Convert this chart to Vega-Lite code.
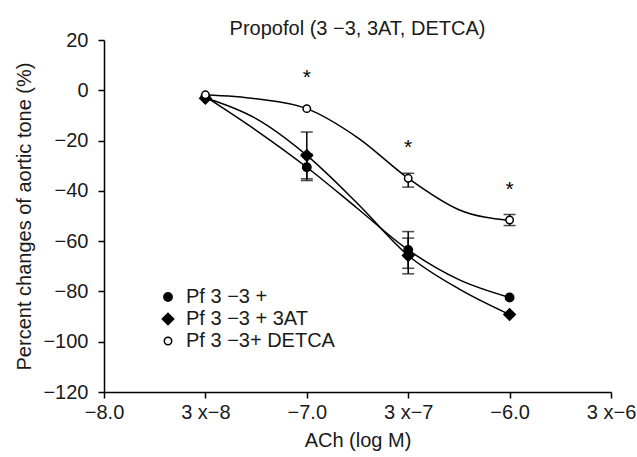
{
  "$schema": "https://vega.github.io/schema/vega-lite/v6.json",
  "width": 507,
  "height": 352,
  "autosize": "none",
  "padding": {"left": 104, "top": 40, "right": 26, "bottom": 65},
  "background": "white",
  "config": {
    "font": "Liberation Sans",
    "view": {"stroke": null},
    "axis": {
      "grid": false,
      "domainColor": "black",
      "domainWidth": 1.5,
      "tickColor": "black",
      "tickWidth": 1.5,
      "tickSize": 6,
      "labelFontSize": 20,
      "labelColor": "#1a1a1a",
      "titleFontSize": 20,
      "titleFontWeight": "normal",
      "titleColor": "#1a1a1a",
      "labelFlush": false,
      "labelOverlap": false,
      "labelBound": false
    }
  },
  "title": {
    "text": "Propofol (3 −3, 3AT, DETCA)",
    "fontSize": 20,
    "fontWeight": "normal",
    "color": "#1a1a1a",
    "anchor": "middle",
    "offset": -9
  },
  "datasets": {
    "curves": [
      {"series": "Pf 3 −3 +", "idx": 1, "value": -2.5},
      {"series": "Pf 3 −3 +", "idx": 1.5, "value": -15.9},
      {"series": "Pf 3 −3 +", "idx": 2, "value": -30.6},
      {"series": "Pf 3 −3 +", "idx": 2.5, "value": -47},
      {"series": "Pf 3 −3 +", "idx": 3, "value": -63.5},
      {"series": "Pf 3 −3 +", "idx": 3.5, "value": -75.3},
      {"series": "Pf 3 −3 +", "idx": 4, "value": -82.4},
      {"series": "Pf 3 −3 + 3AT", "idx": 1, "value": -3},
      {"series": "Pf 3 −3 + 3AT", "idx": 1.5, "value": -11.3},
      {"series": "Pf 3 −3 + 3AT", "idx": 2, "value": -25.9},
      {"series": "Pf 3 −3 + 3AT", "idx": 2.5, "value": -45},
      {"series": "Pf 3 −3 + 3AT", "idx": 3, "value": -65.7},
      {"series": "Pf 3 −3 + 3AT", "idx": 3.5, "value": -79},
      {"series": "Pf 3 −3 + 3AT", "idx": 4, "value": -89.2},
      {"series": "Pf 3 −3+ DETCA", "idx": 1, "value": -1.8},
      {"series": "Pf 3 −3+ DETCA", "idx": 1.5, "value": -3.4},
      {"series": "Pf 3 −3+ DETCA", "idx": 2, "value": -7.3},
      {"series": "Pf 3 −3+ DETCA", "idx": 2.5, "value": -18.8},
      {"series": "Pf 3 −3+ DETCA", "idx": 3, "value": -35},
      {"series": "Pf 3 −3+ DETCA", "idx": 3.5, "value": -47.5},
      {"series": "Pf 3 −3+ DETCA", "idx": 4, "value": -51.8}
    ],
    "points": [
      {"series": "Pf 3 −3 +", "idx": 1, "value": -2.5},
      {"series": "Pf 3 −3 +", "idx": 2, "value": -30.6},
      {"series": "Pf 3 −3 +", "idx": 3, "value": -63.5},
      {"series": "Pf 3 −3 +", "idx": 4, "value": -82.4},
      {"series": "Pf 3 −3 + 3AT", "idx": 1, "value": -3.2},
      {"series": "Pf 3 −3 + 3AT", "idx": 2, "value": -25.9},
      {"series": "Pf 3 −3 + 3AT", "idx": 3, "value": -65.7},
      {"series": "Pf 3 −3 + 3AT", "idx": 4, "value": -89.2},
      {"series": "Pf 3 −3+ DETCA", "idx": 1, "value": -1.8},
      {"series": "Pf 3 −3+ DETCA", "idx": 2, "value": -7.3},
      {"series": "Pf 3 −3+ DETCA", "idx": 3, "value": -35},
      {"series": "Pf 3 −3+ DETCA", "idx": 4, "value": -51.6}
    ],
    "errs": [
      {"series": "Pf 3 −3 +", "idx": 2, "lo": -35.9, "hi": -25.3},
      {"series": "Pf 3 −3 + 3AT", "idx": 2, "lo": -35.2, "hi": -16.6},
      {"series": "Pf 3 −3 +", "idx": 3, "lo": -70.8, "hi": -56.2},
      {"series": "Pf 3 −3 + 3AT", "idx": 3, "lo": -73, "hi": -58.8},
      {"series": "Pf 3 −3+ DETCA", "idx": 3, "lo": -38.5, "hi": -33},
      {"series": "Pf 3 −3+ DETCA", "idx": 4, "lo": -53.8, "hi": -49.4}
    ],
    "stars": [
      {"idx": 2, "value": 6.8, "label": "*"},
      {"idx": 3, "value": -21.1, "label": "*"},
      {"idx": 4, "value": -37.8, "label": "*"}
    ]
  },
  "layer": [
    {
      "data": {"name": "curves"},
      "mark": {"type": "line", "interpolate": "monotone", "color": "black", "strokeWidth": 1.5},
      "encoding": {
        "x": {
          "field": "idx", "type": "quantitative",
          "scale": {"domain": [0, 5], "nice": false, "zero": false},
          "axis": {
            "values": [0, 1, 2, 3, 4, 5],
            "labelExpr": "['−8.0','3 x−8','−7.0','3 x−7','−6.0','3 x−6'][datum.value]",
            "title": "ACh (log M)",
            "labelPadding": 4,
            "titlePadding": 8
          }
        },
        "y": {
          "field": "value", "type": "quantitative",
          "title": "Percent changes of aortic tone (%)",
          "scale": {"domain": [-120, 20], "nice": false, "zero": false},
          "axis": {
            "values": [-120, -100, -80, -60, -40, -20, 0, 20],
            "title": "Percent changes of aortic tone (%)",
            "labelPadding": 10,
            "titlePadding": 8
          }
        },
        "detail": {"field": "series", "type": "nominal"}
      }
    },
    {
      "data": {"name": "errs"},
      "mark": {
        "type": "errorbar",
        "ticks": {"size": 12, "thickness": 1.5, "color": "black"},
        "rule": {"strokeWidth": 1.5, "color": "black"}
      },
      "encoding": {
        "x": {"field": "idx", "type": "quantitative", "title": "ACh (log M)"},
        "y": {"field": "lo", "type": "quantitative", "title": "Percent changes of aortic tone (%)"},
        "y2": {"field": "hi"}
      }
    },
    {
      "data": {"name": "points"},
      "mark": {"type": "point", "filled": true, "stroke": "black", "strokeWidth": 1.5, "opacity": 1},
      "encoding": {
        "x": {"field": "idx", "type": "quantitative", "title": "ACh (log M)"},
        "y": {"field": "value", "type": "quantitative", "title": "Percent changes of aortic tone (%)"},
        "shape": {
          "field": "series", "type": "nominal",
          "scale": {"domain": ["Pf 3 −3 +", "Pf 3 −3 + 3AT", "Pf 3 −3+ DETCA"], "range": ["circle", "diamond", "circle"]},
          "legend": {
            "title": null,
            "orient": "none",
            "legendX": 54,
            "legendY": 247,
            "padding": 0,
            "labelFontSize": 20,
            "labelColor": "#1a1a1a",
            "labelOffset": 8,
            "rowPadding": 2,
            "encode": {"symbols": {"update": {"stroke": {"value": "black"}, "strokeWidth": {"value": 1.5}}}}
          }
        },
        "fill": {
          "field": "series", "type": "nominal",
          "scale": {"domain": ["Pf 3 −3 +", "Pf 3 −3 + 3AT", "Pf 3 −3+ DETCA"], "range": ["black", "black", "white"]}
        },
        "size": {
          "field": "series", "type": "nominal",
          "scale": {"type": "ordinal", "domain": ["Pf 3 −3 +", "Pf 3 −3 + 3AT", "Pf 3 −3+ DETCA"], "range": [70, 130, 55]}
        }
      }
    },
    {
      "data": {"name": "stars"},
      "mark": {"type": "text", "fontSize": 21, "baseline": "middle", "dy": 5, "color": "black"},
      "encoding": {
        "x": {"field": "idx", "type": "quantitative", "title": "ACh (log M)"},
        "y": {"field": "value", "type": "quantitative", "title": "Percent changes of aortic tone (%)"},
        "text": {"field": "label"}
      }
    }
  ]
}
